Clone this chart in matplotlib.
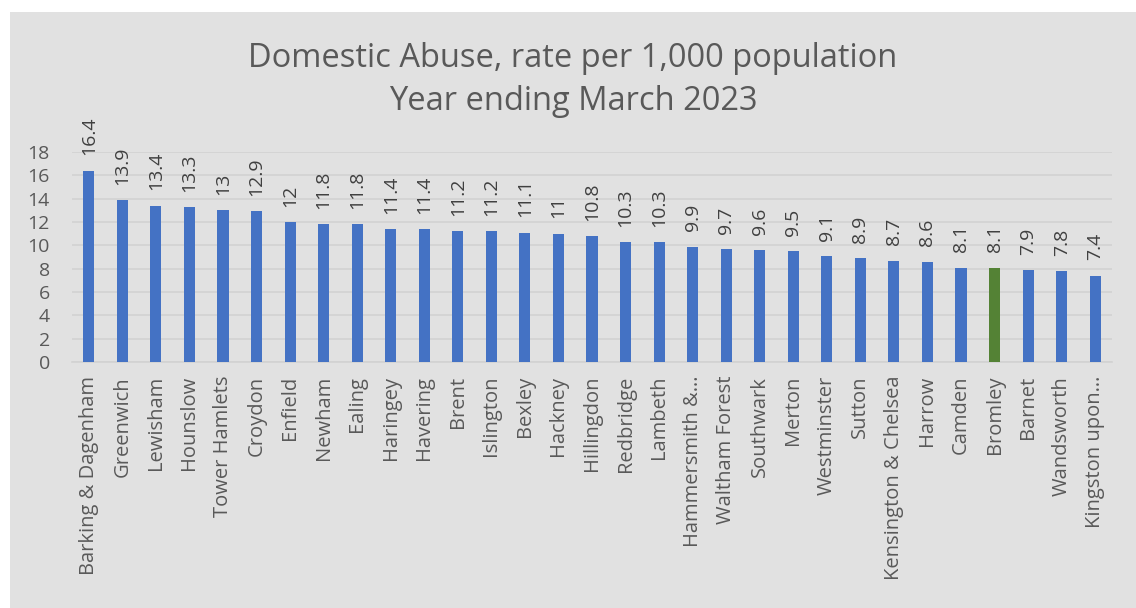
import matplotlib.pyplot as plt
from matplotlib.patches import Rectangle

boroughs = [
    "Barking & Dagenham", "Greenwich", "Lewisham", "Hounslow", "Tower Hamlets",
    "Croydon", "Enfield", "Newham", "Ealing", "Haringey", "Havering", "Brent",
    "Islington", "Bexley", "Hackney", "Hillingdon", "Redbridge", "Lambeth",
    "Hammersmith &\u2026", "Waltham Forest", "Southwark", "Merton", "Westminster",
    "Sutton", "Kensington & Chelsea", "Harrow", "Camden", "Bromley", "Barnet",
    "Wandsworth", "Kingston upon\u2026",
]
rates = [16.4, 13.9, 13.4, 13.3, 13, 12.9, 12, 11.8, 11.8, 11.4, 11.4, 11.2,
         11.2, 11.1, 11, 10.8, 10.3, 10.3, 9.9, 9.7, 9.6, 9.5, 9.1, 8.9, 8.7,
         8.6, 8.1, 8.1, 7.9, 7.8, 7.4]
highlight = "Bromley"
y_ticks = [0, 2, 4, 6, 8, 10, 12, 14, 16, 18]

plt.rcParams['font.family'] = ['Open Sans', 'DejaVu Sans']

BLUE = "#4472C4"
GREEN = "#548235"
BG = "#e1e1e1"

fig = plt.figure(figsize=(11.36, 6.08), dpi=100, facecolor="white")
# grey chart area with a thin white margin at the top and left
fig.patches.append(Rectangle((10 / 1136, 0), 1, 1 - 12 / 608,
                             transform=fig.transFigure, facecolor=BG,
                             edgecolor="none", zorder=-1))

ax = fig.add_axes([72 / 1136, 1 - 362 / 608, 1040 / 1136, 210 / 608])
ax.set_facecolor(BG)

x = list(range(len(boroughs)))
colors = [GREEN if b == highlight else BLUE for b in boroughs]
ax.bar(x, rates, width=0.33, color=colors, zorder=3)

for xi, v in zip(x, rates):
    ax.annotate(f"{v:g}", (xi, v), xytext=(0, 11), textcoords="offset points",
                rotation=90, ha="center", va="bottom", fontsize=14,
                color="#404040")

ax.set_xlim(-0.5, len(boroughs) - 0.5)
ax.set_ylim(0, 18)
ax.set_yticks(y_ticks)
ax.set_xticks(x)
ax.set_xticklabels(boroughs, rotation=90, fontsize=14.5, color="#595959")
ax.tick_params(axis="y", labelsize=14, labelcolor="#595959", length=0, pad=16)
ax.tick_params(axis="x", length=0, pad=10)
ax.yaxis.grid(True, color="#d2d2d2", linewidth=1.2, zorder=0)
for s in ["top", "right", "left"]:
    ax.spines[s].set_visible(False)
ax.spines["bottom"].set_color("#d2d2d2")
ax.spines["bottom"].set_linewidth(1.2)

fig.text(573 / 1136, 1 - 80 / 608,
         "Domestic Abuse, rate per 1,000 population\nYear ending March 2023",
         ha="center", va="center", fontsize=23.5, color="#595959",
         linespacing=1.4)

fig.savefig("out.png", dpi=100, facecolor=fig.get_facecolor())
